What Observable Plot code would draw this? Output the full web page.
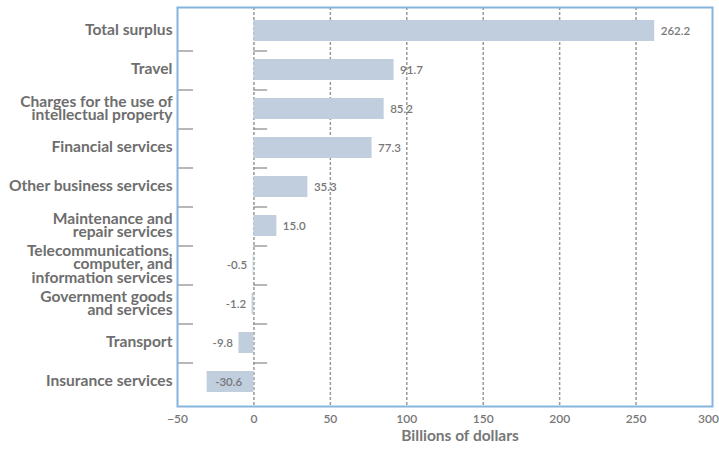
<!DOCTYPE html>
<html>
<head>
<meta charset="utf-8">
<script src="https://cdn.jsdelivr.net/npm/d3@7"></script>
<script src="https://cdn.jsdelivr.net/npm/@observablehq/plot@0.6"></script>
<style>
  html, body { margin: 0; padding: 0; background: #fff; }
  svg { display: block; }
</style>
</head>
<body>
<div id="chart"></div>
<script>
const categories = [
  "Total surplus",
  "Travel",
  "Charges for the use of\nintellectual property",
  "Financial services",
  "Other business services",
  "Maintenance and\nrepair services",
  "Telecommunications,\ncomputer, and\ninformation services",
  "Government goods\nand services",
  "Transport",
  "Insurance services"
];
const values = [262.2, 91.7, 85.2, 77.3, 35.3, 15.0, -0.5, -1.2, -9.8, -30.6];
const valueLabels = ["262.2", "91.7", "85.2", "77.3", "35.3", "15.0", "-0.5", "-1.2", "-9.8", "-30.6"];
const xTicks = [-50, 0, 50, 100, 150, 200, 250];
const lastTick = [300];
const gridTicks = [0, 50, 100, 150, 200, 250];
const axisTitle = "Billions of dollars";

const data = categories.map((c, i) => ({name: c, value: values[i], label: valueLabels[i]}));
const boundaries = categories.slice(0, -1);

const font = "Lato, 'Open Sans', sans-serif";

const chart = Plot.plot({
  width: 719,
  height: 451,
  marginLeft: 177,
  marginRight: 7,
  marginTop: 7,
  marginBottom: 45,
  style: {fontFamily: font, background: "#fff"},
  x: {domain: [-50, 300]},
  y: {domain: categories, paddingInner: 0.45, paddingOuter: 0.225, axis: null},
  marks: [
    Plot.ruleX(gridTicks, {stroke: "#999", strokeWidth: 1.5, strokeDasharray: "3,2"}),
    Plot.barX(data, {y: "name", x1: 0, x2: "value", fill: "#c1cede"}),
    Plot.ruleY(boundaries, {y: d => d, x1: -50, x2: -39.5, dy: 20, stroke: "#888", strokeWidth: 1.2}),
    Plot.ruleY(boundaries, {y: d => d, x1: 0, x2: 9, dy: 20, stroke: "#888", strokeWidth: 1.2}),
    Plot.text(data.filter(d => d.value >= 0), {
      y: "name", x: "value", text: "label", dx: 6, textAnchor: "start",
      fill: "#777", fontSize: 11.5, fontWeight: 600
    }),
    Plot.text(data.filter(d => d.value < 0 && d.value > -20), {
      y: "name", x: "value", text: "label", dx: -6, textAnchor: "end",
      fill: "#777", fontSize: 11.5, fontWeight: 600
    }),
    Plot.text(data.filter(d => d.value <= -20), {
      y: "name", x: "value", text: "label", dx: 8, textAnchor: "start",
      fill: "#777", fontSize: 11.5, fontWeight: 600
    }),
    Plot.text(data, {
      y: "name", x: -50, text: "name", dx: -5, textAnchor: "end",
      lineHeight: 0.88, fill: "#6e6e6e", fontSize: 15.6, fontWeight: 700
    }),
    Plot.axisX(xTicks, {tickSize: 0, tickPadding: 8, fontSize: 12, fill: "#777", label: null, fontWeight: 600}),
    Plot.axisX(lastTick, {tickSize: 0, tickPadding: 8, fontSize: 12, fill: "#777", label: null, fontWeight: 600, dx: -4}),
    Plot.text([axisTitle], {frameAnchor: "bottom", dy: 34, dx: 15, fill: "#777", fontSize: 15.5, fontWeight: 700}),
    Plot.frame({stroke: "#85b4dc", strokeWidth: 2})
  ]
});
document.getElementById("chart").append(chart);
</script>
</body>
</html>
